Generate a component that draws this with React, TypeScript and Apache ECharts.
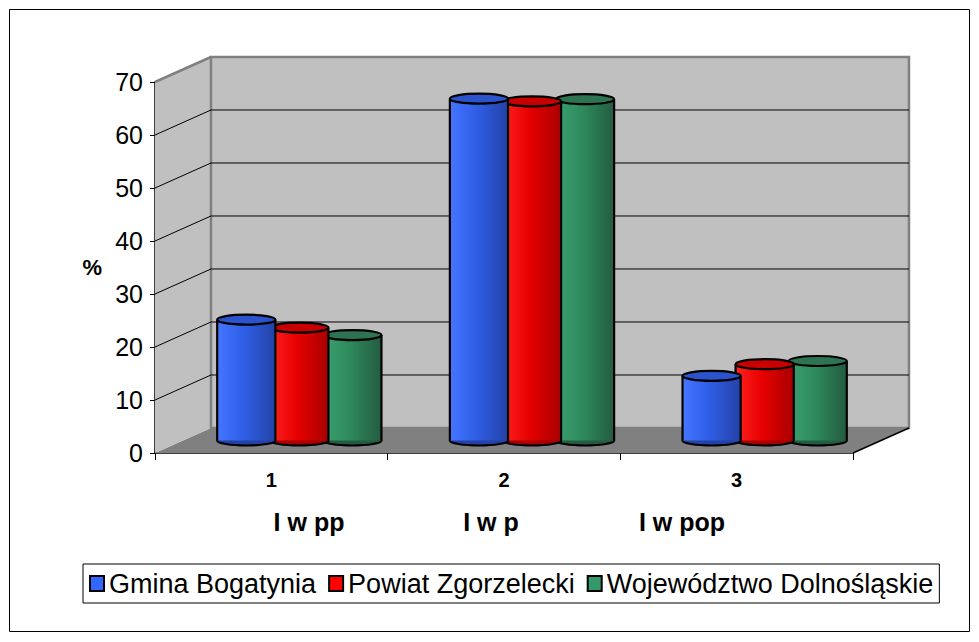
import React, { useEffect, useRef } from "react";
import * as echarts from "echarts";

const categories = ["1", "2", "3"];
const subLabels = ["I w pp", "I w p", "I w pop"];
const seriesNames = ["Gmina Bogatynia", "Powiat Zgorzelecki", "Województwo Dolnośląskie"];
const gmina = [22.8, 64.5, 12.2];
const powiat = [21.3, 64.0, 14.4];
const wojewodztwo = [19.9, 64.4, 15.0];
const yMin = 0;
const yMax = 70;
const yStep = 10;

const FONT = '"Liberation Sans", Arial, sans-serif';

const legendColors = ["#3366ff", "#ff0000", "#339966"];
const bodyColors = [
  ["#4576ff", "#2f5ee6", "#2442a6"],
  ["#ff2222", "#e80000", "#a80000"],
  ["#3ba06f", "#2e8a5c", "#235c41"],
];
const topColors = ["#2b54cc", "#c80000", "#2c7452"];

const DEPTH_X = 0.0802;
const DEPTH_Y = 0.0674;

function renderWalls(params: any, api: any) {
  const cs = params.coordSys;
  const x0 = cs.x, x1 = cs.x + cs.width, yT = cs.y, yB = cs.y + cs.height;
  const dx = cs.width * DEPTH_X, dy = cs.height * DEPTH_Y;
  const children: any[] = [];
  children.push({
    type: "polygon",
    shape: { points: [[x0, yB], [x1, yB], [x1 + dx, yB - dy], [x0 + dx, yB - dy]] },
    style: { fill: "#808080" },
  });
  children.push({
    type: "polygon",
    shape: { points: [[x0, yB], [x0, yT], [x0 + dx, yT - dy], [x0 + dx, yB - dy]] },
    style: { fill: "#c0c0c0" },
  });
  children.push({
    type: "rect",
    shape: { x: x0 + dx, y: yT - dy, width: x1 - x0, height: yB - yT },
    style: { fill: "#c0c0c0", stroke: "#808080", lineWidth: 2.5 },
  });
  for (let v = yMin + yStep; v < yMax; v += yStep) {
    const y = api.coord([0, v])[1];
    children.push({
      type: "line",
      shape: { x1: x0 + dx, y1: y - dy, x2: x1 + dx, y2: y - dy },
      style: { stroke: "#000", lineWidth: 1 },
    });
    children.push({
      type: "line",
      shape: { x1: x0, y1: y, x2: x0 + dx, y2: y - dy },
      style: { stroke: "#000", lineWidth: 1 },
    });
  }
  children.push({
    type: "line",
    shape: { x1: x0, y1: yT, x2: x0 + dx, y2: yT - dy },
    style: { stroke: "#808080", lineWidth: 2.5 },
  });
  children.push({
    type: "line",
    shape: { x1: x1, y1: yB, x2: x1 + dx, y2: yB - dy },
    style: { stroke: "#000", lineWidth: 1.5 },
  });
  return { type: "group", children };
}

function makeCylinder(s: number) {
  return (params: any, api: any) => {
    const cs = params.coordSys;
    const dx = cs.width * DEPTH_X * 0.5;
    const dy = cs.height * DEPTH_Y * 0.5;
    const ci = api.value(0);
    const v = api.value(1);
    const base = api.coord([ci, 0]);
    const top = api.coord([ci, v]);
    const band = api.size([1, 0])[0];
    const w = band * 0.25;
    const rx = w / 2;
    const ry = 5;
    const cx = base[0] + dx + (s - 1) * band * 0.228;
    const yb = base[1] - dy;
    const yt = top[1] - dy;
    const [c1, c2, c3] = bodyColors[s];
    const grad = new echarts.graphic.LinearGradient(0, 0, 1, 0, [
      { offset: 0, color: c1 },
      { offset: 0.45, color: c2 },
      { offset: 1, color: c3 },
    ]);
    return {
      type: "group",
      children: [
        {
          type: "ellipse",
          shape: { cx, cy: yb, rx, ry },
          style: { fill: c3, stroke: "#000", lineWidth: 2.2 },
        },
        {
          type: "rect",
          shape: { x: cx - rx, y: yt, width: w, height: yb - yt },
          style: { fill: grad },
        },
        {
          type: "line",
          shape: { x1: cx - rx, y1: yt, x2: cx - rx, y2: yb },
          style: { stroke: "#000", lineWidth: 2.2 },
        },
        {
          type: "line",
          shape: { x1: cx + rx, y1: yt, x2: cx + rx, y2: yb },
          style: { stroke: "#000", lineWidth: 2.2 },
        },
        {
          type: "ellipse",
          shape: { cx, cy: yt, rx, ry },
          style: { fill: topColors[s], stroke: "#000", lineWidth: 2.2 },
        },
      ],
    };
  };
}

const subLabelX = [309, 491, 682];

export default function App() {
  const ref = useRef<HTMLDivElement>(null);
  useEffect(() => {
    document.body.style.margin = "0";
    if (!ref.current) return;
    const chart = echarts.init(ref.current, null, { renderer: "svg" });
    const values = [gmina, powiat, wojewodztwo];
    const barSeries = values.map((arr, s) => ({
      type: "custom",
      name: seriesNames[s],
      coordinateSystem: "cartesian2d",
      clip: false,
      z: 4 - s,
      itemStyle: { color: legendColors[s] },
      renderItem: makeCylinder(s),
      data: arr.map((v, i) => [i, v]),
    }));
    chart.setOption({
      animation: false,
      backgroundColor: "#fff",
      textStyle: { fontFamily: FONT },
      grid: { left: 155, right: 126, top: 82, bottom: 189, containLabel: false },
      legend: {
        data: seriesNames,
        left: 83,
        top: 564,
        icon: "rect",
        itemWidth: 14,
        itemHeight: 15,
        itemGap: 12,
        padding: [6, 6, 6, 6],
        borderColor: "#000",
        borderWidth: 1,
        itemStyle: { borderColor: "#000", borderWidth: 2 },
        textStyle: { fontSize: 27, color: "#000", fontFamily: FONT },
      },
      xAxis: {
        type: "category",
        data: categories,
        axisLine: { lineStyle: { color: "#000", width: 1.5 } },
        axisTick: { show: true, length: 7, alignWithLabel: false, lineStyle: { color: "#000" } },
        axisLabel: { fontSize: 20, fontWeight: "bold", color: "#000", margin: 17, fontFamily: FONT },
        splitLine: { show: false },
      },
      yAxis: {
        type: "value",
        min: yMin,
        max: yMax,
        interval: yStep,
        name: "%",
        nameLocation: "middle",
        nameRotate: 0,
        nameGap: 53,
        nameTextStyle: { fontSize: 22, fontWeight: "bold", color: "#000", fontFamily: FONT },
        axisLine: { show: true, lineStyle: { color: "#000", width: 1.5 } },
        axisTick: { show: true, length: 5, lineStyle: { color: "#000" } },
        axisLabel: { fontSize: 25, color: "#000", margin: 12, fontFamily: FONT },
        splitLine: { show: false },
      },
      graphic: [
        {
          type: "rect",
          shape: { x: 9.5, y: 9.5, width: 960, height: 622 },
          style: { fill: "none", stroke: "#000", lineWidth: 1 },
          silent: true,
        },
        ...subLabels.map((t, i) => ({
          type: "text",
          x: subLabelX[i],
          y: 522,
          style: {
            text: t,
            align: "center",
            verticalAlign: "middle",
            fontSize: 25,
            fontWeight: "bold",
            fontFamily: FONT,
            fill: "#000",
          },
          silent: true,
        })),
      ],
      series: [
        {
          type: "custom",
          name: "walls",
          coordinateSystem: "cartesian2d",
          clip: false,
          silent: true,
          z: 1,
          renderItem: renderWalls,
          data: [[0, 0]],
        },
        ...barSeries,
      ],
    });
    return () => chart.dispose();
  }, []);
  return <div ref={ref} style={{ width: 979, height: 642 }} />;
}
